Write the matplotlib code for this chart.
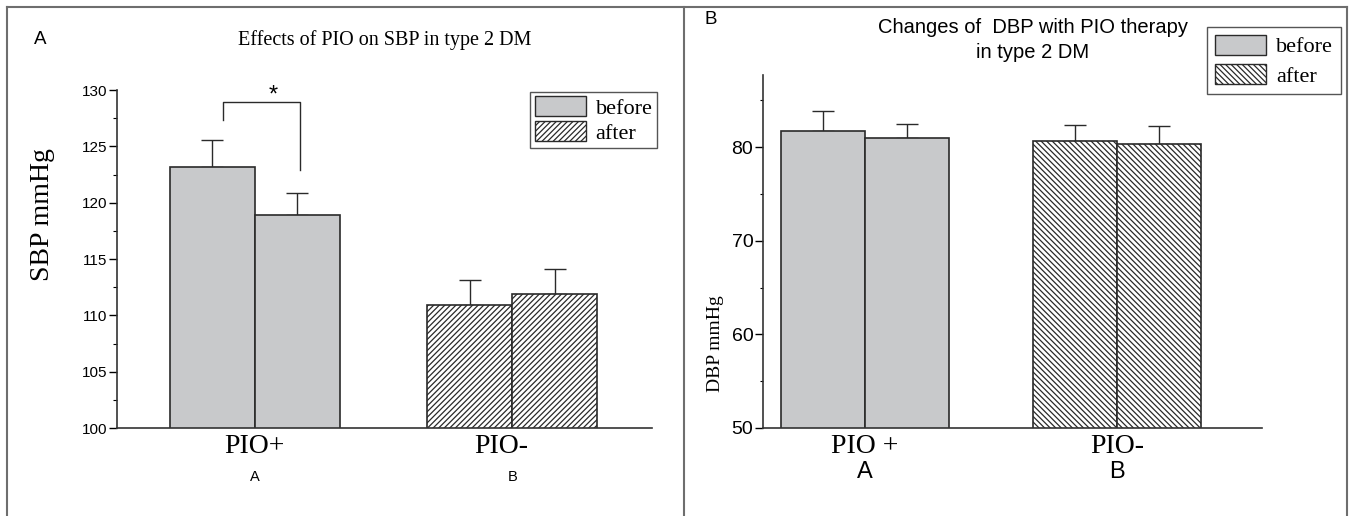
import matplotlib
matplotlib.use("Agg")
import matplotlib.pyplot as plt
from matplotlib.patches import Patch
from matplotlib.lines import Line2D
from matplotlib.transforms import ScaledTranslation
import numpy as np

# ---------------- data ----------------
groups = ["PIO+", "PIO-"]
group_letters = ["A", "B"]
series = ["before", "after"]

sbp_before = [123.2, 110.9]
sbp_after = [118.9, 111.9]
sbp_before_err = [2.4, 2.2]
sbp_after_err = [2.0, 2.2]

dbp_groups = ["PIO +", "PIO-"]
dbp_before = [81.7, 80.7]
dbp_after = [81.0, 80.3]
dbp_before_err = [2.2, 1.7]
dbp_after_err = [1.5, 1.9]

W, H = 1354, 516
fig = plt.figure(figsize=(W / 100, H / 100), dpi=100)

SERIF = ["Liberation Serif", "DejaVu Serif"]
SANS = ["Liberation Sans Narrow", "Liberation Sans", "DejaVu Sans"]
GRAY = "#c8c9cb"
EDGE = "#2a2a2a"

def px_axes(l, t, r, b):
    return fig.add_axes([l / W, 1 - b / H, (r - l) / W, (b - t) / H])

def draw_panel(ax, before, after, berr, aerr, hatch, bw, ticksize):
    x = np.arange(len(before))
    for i in range(len(before)):
        fill = GRAY if i == 0 else "white"
        h = None if i == 0 else hatch
        ax.bar(x[i] - bw / 2, before[i], bw, color=fill, edgecolor=EDGE,
               linewidth=1.2, hatch=h, zorder=2)
        ax.bar(x[i] + bw / 2, after[i], bw, color=fill, edgecolor=EDGE,
               linewidth=1.2, hatch=h, zorder=2)
    ax.errorbar(x - bw / 2, before, yerr=[np.zeros(len(berr)), berr], fmt="none",
                ecolor=EDGE, elinewidth=1.0, capsize=8, capthick=1.0, zorder=1)
    ax.errorbar(x + bw / 2, after, yerr=[np.zeros(len(aerr)), aerr], fmt="none",
                ecolor=EDGE, elinewidth=1.0, capsize=8, capthick=1.0, zorder=1)
    for s in ["top", "right"]:
        ax.spines[s].set_visible(False)
    for s in ["left", "bottom"]:
        ax.spines[s].set_color("#333333")
        ax.spines[s].set_linewidth(1.2)
    ax.tick_params(axis="y", direction="out", length=6, width=1, pad=1, labelsize=ticksize)
    ax.tick_params(axis="y", which="minor", direction="out", length=3, width=0.8)
    ax.tick_params(axis="x", length=0, pad=4)

def make_legend(ax, hatch, anchor, spacing, pad):
    leg = ax.legend(handles=[Patch(facecolor=GRAY, edgecolor=EDGE, label=series[0]),
                             Patch(facecolor="white", edgecolor=EDGE, hatch=hatch, label=series[1])],
                    loc="upper right", bbox_to_anchor=anchor,
                    frameon=True, fancybox=False, edgecolor=EDGE, handlelength=2.3,
                    handleheight=1.0, prop={"family": SERIF, "size": 16},
                    borderpad=pad, labelspacing=spacing, handletextpad=0.45, borderaxespad=0)
    leg.get_frame().set_linewidth(1.0)
    return leg

plt.rcParams["hatch.linewidth"] = 0.9
plt.rcParams["hatch.color"] = EDGE

# ---------------- panel A ----------------
axA = px_axes(117, 90, 652, 428)
bwA = 0.33
axA.set_xlim(-0.535, 1.543)
draw_panel(axA, sbp_before, sbp_after, sbp_before_err, sbp_after_err, "//////", bwA, 11)
axA.set_ylim(100, 130)
axA.set_yticks(np.arange(100, 131, 5))
axA.set_yticks(np.arange(102.5, 130, 5), minor=True)
for lab in axA.get_yticklabels():
    lab.set_family(SANS)
axA.set_xticks([0, 1])
axA.set_xticklabels(groups, fontfamily=SERIF, fontsize=20)
lab1 = axA.get_xticklabels()[1]
lab1.set_transform(lab1.get_transform() + ScaledTranslation(-0.11, 0, fig.dpi_scale_trans))
for xi, letter in enumerate(group_letters):
    axA.text(xi, -0.145, letter, transform=axA.get_xaxis_transform(), ha="center",
             va="center", fontsize=10.5, family=SANS)
axA.set_ylabel("SBP mmHg", fontfamily=SERIF, fontsize=20)
axA.yaxis.set_label_coords(-0.115, 0.63)
# significance bracket
axA.plot([-0.124, -0.124, 0.174, 0.174], [127.3, 128.9, 128.9, 122.9],
         color=EDGE, lw=1.0, clip_on=False)
axA.text(0.072, 128.5, "*", ha="center", va="bottom", fontsize=17, family=SANS)
make_legend(axA, "//////", ((657 - 117) / (652 - 117), (428 - 92) / (428 - 90)), 0.1, 0.2)

# ---------------- panel B ----------------
axB = px_axes(763, 75, 1262, 428)
bwB = 0.333
axB.set_xlim(-0.405, 1.575)
draw_panel(axB, dbp_before, dbp_after, dbp_before_err, dbp_after_err, "\\\\\\\\\\\\", bwB, 14)
axB.set_ylim(50, 87.7)
axB.set_yticks([50, 60, 70, 80])
axB.set_yticks([55, 65, 75, 85], minor=True)
axB.tick_params(axis="y", which="minor", length=2)
for lab in axB.get_yticklabels():
    lab.set_family(SANS)
axB.set_xticks([0, 1])
axB.set_xticklabels(dbp_groups, fontfamily=SERIF, fontsize=20)
for xi, letter in enumerate(group_letters):
    axB.text(xi, -0.125, letter, transform=axB.get_xaxis_transform(), ha="center",
             va="center", fontsize=17, family=SANS)
axB.set_ylabel("DBP mmHg", fontfamily=SERIF, fontsize=14)
axB.yaxis.set_label_coords(-0.079, 0.24)
make_legend(axB, "\\\\\\\\\\\\", ((1341 - 763) / (1262 - 763), (428 - 27) / (428 - 75)), 0.3, 0.35)

# ---------------- figure texts & frame ----------------
fig.text(40 / W, 1 - 40 / H, "A", fontsize=13.5, family=SANS, ha="center", va="center")
fig.text(385 / W, 1 - 40 / H, "Effects of PIO on SBP in type 2 DM", fontsize=14.5,
         family=SERIF, ha="center", va="center")
fig.text(711 / W, 1 - 20 / H, "B", fontsize=13.5, family=SANS, ha="center", va="center")
fig.text(1033 / W, 1 - 40 / H, "Changes of  DBP with PIO therapy\nin type 2 DM", fontsize=14.5,
         family=SANS, ha="center", va="center", linespacing=1.35)

frame_col = "#6e6e6e"
for xs, ys in [([7, 1347], [7, 7]), ([7, 7], [7, 516]), ([1347, 1347], [7, 516]),
               ([684, 684], [7, 516])]:
    fig.add_artist(Line2D([x / W for x in xs], [1 - y / H for y in ys], color=frame_col,
                          lw=1.5, transform=fig.transFigure))

fig.savefig("out.png", dpi=100)
